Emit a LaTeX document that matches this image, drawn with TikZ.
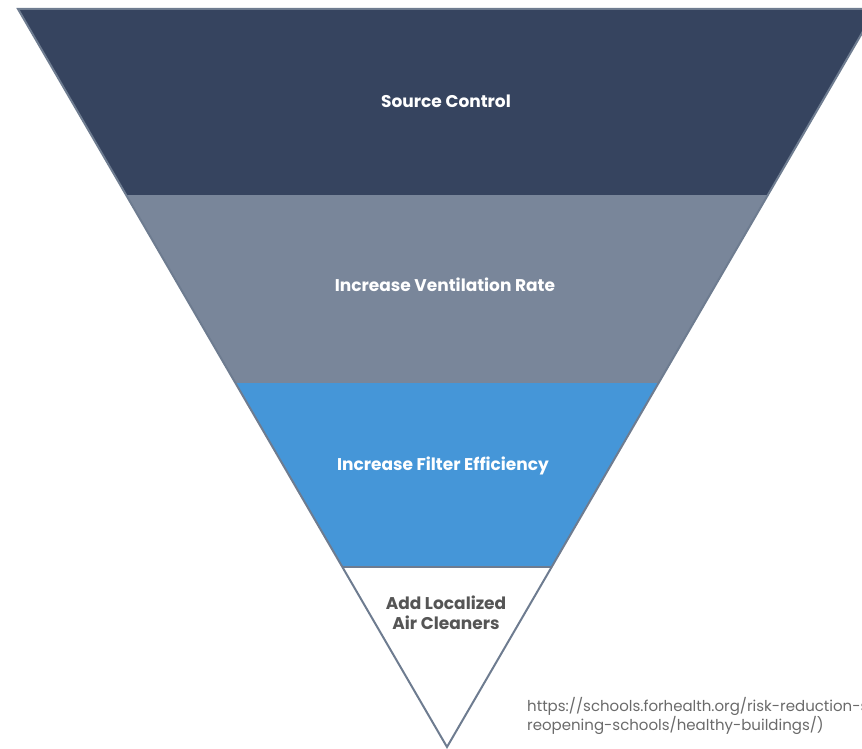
\documentclass[tikz,border=0pt]{standalone}
\usepackage{fontspec}
\setmainfont{Poppins}
\definecolor{navy}{HTML}{36445F}
\definecolor{slate}{HTML}{79869A}
\definecolor{skyb}{HTML}{4596D8}
\definecolor{edge}{HTML}{6E7C90}
\definecolor{darktxt}{HTML}{555555}
\definecolor{urltxt}{HTML}{6A6A6A}
\begin{document}
\begin{tikzpicture}[x=1pt,y=-1pt,
  lbl/.style={font=\bfseries\fontsize{17}{20}\selectfont, text=white, align=center},
  lbldark/.style={font=\bfseries\fontsize{17}{20}\selectfont, text=darktxt, align=center},
  urlstyle/.style={font=\fontsize{15}{18}\selectfont, text=urltxt, align=left, anchor=north west, inner sep=0pt}]
\useasboundingbox (0,0) rectangle (862,749);
\clip (0,0) rectangle (862,749);
% coordinates of triangle
\coordinate (TL) at (18,9);
\coordinate (TR) at (876,9);
\coordinate (AP) at (447,747);
% band fills
\fill[navy] (18,9) -- (876,9) -- (447+0.5813*552,195) -- (447-0.5813*552,195) -- cycle;
\fill[slate] (447-0.5813*552,195) -- (447+0.5813*552,195) -- (447+0.5813*364,383) -- (447-0.5813*364,383) -- cycle;
\fill[skyb] (447-0.5813*364,383) -- (447+0.5813*364,383) -- (447+0.5813*180,567) -- (447-0.5813*180,567) -- cycle;
\fill[white] (447-0.5813*180,567) -- (447+0.5813*180,567) -- (AP) -- cycle;
% outline
\draw[edge, line width=2pt, line join=miter] (TL) -- (TR) -- (AP) -- cycle;
\draw[edge, line width=2pt] (447-0.5813*180,567) -- (447+0.5813*180,567);
% labels
\node[lbl] (l1) at (446,101) {Source Control};
\node[lbl] (l2) at (445,285) {Increase Ventilation Rate};
\node[lbl] (l3) at (443,466) {Increase Filter Efficiency};
\node[lbldark] (l4) at (446,613) {Add Localized\\Air Cleaners};
\node[urlstyle] (src) at (527,697) {https://schools.forhealth.org/risk-reduction-strategies-for-\\reopening-schools/healthy-buildings/)};
\end{tikzpicture}
\end{document}
